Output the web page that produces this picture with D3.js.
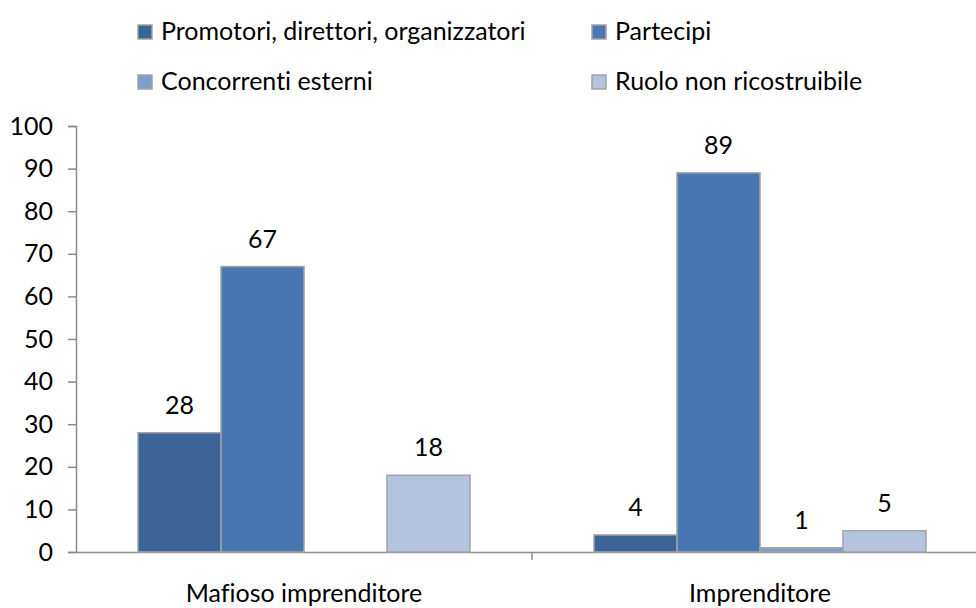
<!DOCTYPE html>
<html>
<head>
<meta charset="utf-8">
<script src="https://cdn.jsdelivr.net/npm/d3@7"></script>
<style>
  body { margin: 0; background: #fff; }
  svg text { font-family: Lato, "Open Sans", sans-serif; fill: #000; font-variant-ligatures: none; }
</style>
</head>
<body>
<svg id="chart" width="976" height="608"></svg>
<script>
const categories = ["Mafioso imprenditore", "Imprenditore"];
const seriesNames = ["Promotori, direttori, organizzatori", "Partecipi", "Concorrenti esterni", "Ruolo non ricostruibile"];
const promotori = [28, 4];
const partecipi = [67, 89];
const concorrenti = [null, 1];
const ruolo = [18, 5];
const yTicks = [0, 10, 20, 30, 40, 50, 60, 70, 80, 90, 100];
const colors = ["#3d6497", "#4877b1", "#7e9dcb", "#b4c4df"];

const seriesValues = [promotori, partecipi, concorrenti, ruolo];

const svg = d3.select("#chart");
const plotLeft = 76, plotRight = 988, plotTop = 126, plotBottom = 552;
const fontSize = "25px";

const x = d3.scaleBand().domain(categories).range([plotLeft, plotRight]);
const xs = d3.scaleBand().domain(seriesNames).range([0, 332]);
const y = d3.scaleLinear().domain([0, 100]).range([plotBottom, plotTop]);

// y axis
const yAxis = svg.append("g")
    .attr("transform", "translate(" + plotLeft + ",0)")
    .call(d3.axisLeft(y).tickValues(yTicks).tickSize(8).tickPadding(15));
yAxis.select(".domain").attr("stroke", "#8c8c8c").attr("stroke-width", 1.5);
yAxis.selectAll(".tick line").attr("stroke", "#8c8c8c").attr("stroke-width", 1.5);
yAxis.selectAll(".tick text").style("font-size", fontSize);

// x axis
const xAxis = svg.append("g")
    .attr("transform", "translate(0," + plotBottom + ")")
    .call(d3.axisBottom(x).tickSize(0));
xAxis.select(".domain").attr("stroke", "#8c8c8c").attr("stroke-width", 1.5);
xAxis.selectAll(".tick text").style("font-size", fontSize).attr("y", 50).attr("dy", 0);
// category separator ticks
xAxis.selectAll(".sep")
    .data(categories)
    .enter()
    .append("line")
    .attr("x1", d => x(d) + x.bandwidth())
    .attr("x2", d => x(d) + x.bandwidth())
    .attr("y1", 0)
    .attr("y2", 8)
    .attr("stroke", "#8c8c8c")
    .attr("stroke-width", 1.5);

// bars
const rows = [];
categories.forEach((c, ci) => {
    seriesNames.forEach((s, si) => {
        rows.push({ cat: c, series: s, si: si, value: seriesValues[si][ci] });
    });
});
const data = rows.filter(d => d.value !== null);

const groupOffset = (x.bandwidth() - xs.range()[1]) / 2;

svg.append("g").selectAll("rect")
    .data(data)
    .enter()
    .append("rect")
    .attr("x", d => x(d.cat) + groupOffset + xs(d.series))
    .attr("y", d => y(d.value))
    .attr("width", xs.bandwidth())
    .attr("height", d => plotBottom - y(d.value))
    .attr("fill", d => colors[d.si])
    .attr("stroke", "#a3a3a3")
    .attr("stroke-width", 1.5);

svg.append("g").selectAll("text")
    .data(data)
    .enter()
    .append("text")
    .attr("x", d => x(d.cat) + groupOffset + xs(d.series) + xs.bandwidth() / 2)
    .attr("y", d => y(d.value) - 19)
    .attr("text-anchor", "middle")
    .style("font-size", fontSize)
    .text(d => d.value);

// legend
const legend = svg.append("g");
const legendPos = [[137, 40], [591, 40], [137, 90], [591, 90]];
seriesNames.forEach((s, i) => {
    const g = legend.append("g")
        .attr("transform", "translate(" + legendPos[i][0] + "," + legendPos[i][1] + ")");
    g.append("rect")
        .attr("x", 1).attr("y", -15)
        .attr("width", 14).attr("height", 14)
        .attr("fill", colors[i])
        .attr("stroke", "#a3a3a3")
        .attr("stroke-width", 1.5);
    g.append("text")
        .attr("x", 24)
        .attr("y", 0)
        .style("font-size", fontSize)
        .text(s);
});
</script>
</body>
</html>
